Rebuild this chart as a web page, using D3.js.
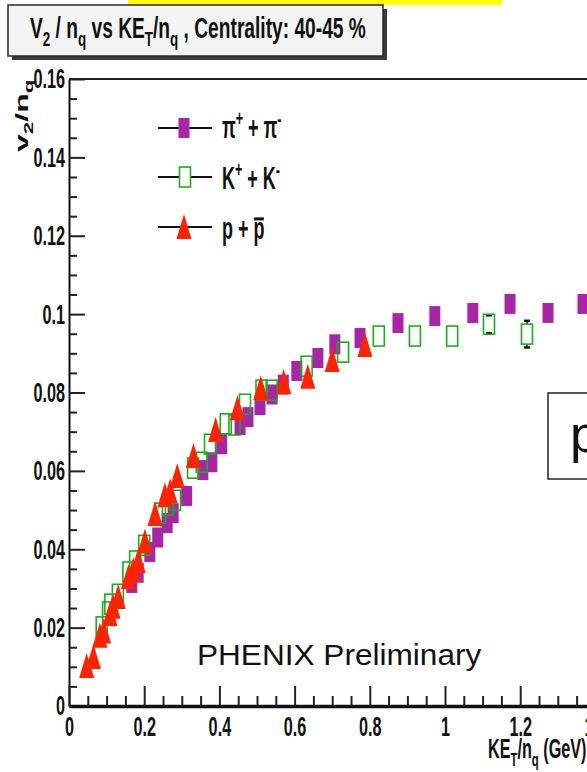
<!DOCTYPE html>
<html><head><meta charset="utf-8">
<script src="https://cdn.jsdelivr.net/npm/d3@7"></script>
<style>body{margin:0;background:#fff;} svg{display:block;}</style>
</head><body>
<svg id="c" width="587" height="772"></svg>
<script>
// ---------------- data ----------------
const pionKE = [0.167, 0.184, 0.215, 0.236, 0.261, 0.277, 0.313, 0.356, 0.380, 0.406, 0.455, 0.476, 0.508, 0.540, 0.570, 0.606, 0.662, 0.707, 0.774, 0.875, 0.973, 1.074, 1.173, 1.274, 1.367];
const pionV2 = [0.0314, 0.0340, 0.0393, 0.0430, 0.0467, 0.0492, 0.0536, 0.0602, 0.0622, 0.0668, 0.0717, 0.0737, 0.0768, 0.0795, 0.0820, 0.0855, 0.0888, 0.0923, 0.0939, 0.0977, 0.0995, 0.1003, 0.1026, 0.1003, 0.1026];

const kaonKE = [0.087, 0.104, 0.110, 0.130, 0.158, 0.176, 0.200, 0.242, 0.263, 0.282, 0.330, 0.353, 0.375, 0.417, 0.440, 0.468, 0.512, 0.539, 0.632, 0.729, 0.824, 0.920, 1.019, 1.117, 1.218];
const kaonV2 = [0.0202, 0.0240, 0.0260, 0.0285, 0.0342, 0.0370, 0.0410, 0.0492, 0.0513, 0.0525, 0.0607, 0.0622, 0.0668, 0.0720, 0.0717, 0.0770, 0.0806, 0.0806, 0.0867, 0.0903, 0.0944, 0.0944, 0.0944, 0.0974, 0.0949];
const kaonErr = [0, 0, 0, 0, 0, 0, 0, 0, 0, 0, 0, 0, 0, 0, 0, 0, 0, 0, 0, 0, 0, 0, 0, 0.0023, 0.0034];

const protonKE = [0.047, 0.065, 0.082, 0.092, 0.109, 0.117, 0.131, 0.158, 0.171, 0.184, 0.202, 0.229, 0.255, 0.269, 0.288, 0.331, 0.390, 0.448, 0.510, 0.571, 0.635, 0.700, 0.787];
const protonV2 = [0.0102, 0.0125, 0.0179, 0.0190, 0.0235, 0.0253, 0.0278, 0.0329, 0.0347, 0.0370, 0.0420, 0.0490, 0.0538, 0.0548, 0.0587, 0.0638, 0.0704, 0.0760, 0.0811, 0.0827, 0.0840, 0.0883, 0.0921];

const yTicks = [0, 0.02, 0.04, 0.06, 0.08, 0.10, 0.12, 0.14, 0.16];
const yTickLabels = ["0", "0.02", "0.04", "0.06", "0.08", "0.1", "0.12", "0.14", "0.16"];
const xTicks = [0, 0.2, 0.4, 0.6, 0.8, 1.0, 1.2, 1.4];
const xTickLabels = ["0", "0.2", "0.4", "0.6", "0.8", "1", "1.2", "1.4"];

const annotationText = "PHENIX Preliminary";

// ---------------- setup ----------------
const FONT = "'Liberation Sans', Arial, Helvetica, sans-serif";
const SQ = 0.58; // horizontal squeeze of the ROOT canvas text
const PURPLE = "#a626a6", GREEN = "#1eaa1e", RED = "#ff2400";

const svg = d3.select("#c");
const x = d3.scaleLinear().domain([0, 1.4]).range([69, 595.4]);
const y = d3.scaleLinear().domain([0, 0.16]).range([706, 79]);

// yellow strip at top
svg.append("rect").attr("x", 128).attr("y", 0).attr("width", 374).attr("height", 5).attr("fill", "#ffff00");

// title box with shadow
svg.append("rect").attr("x", 12).attr("y", 9).attr("width", 375).attr("height", 51).attr("fill", "#3a3a3a");
svg.append("rect").attr("x", 8).attr("y", 5).attr("width", 375).attr("height", 51)
  .attr("fill", "#f4f4f4").attr("stroke", "#2a2a2a").attr("stroke-width", 1.5);

function fitted(parent, px, py, targetW, build, anchor) {
  const g = parent.append("g").attr("transform", `translate(${px},${py})`);
  const t = g.append("text").attr("text-anchor", anchor || "start");
  build(t);
  const w = t.node().getBBox().width;
  g.attr("transform", `translate(${px},${py}) scale(${targetW / w},1)`);
  return t;
}
function sub(t, s, size) {
  t.append("tspan").attr("font-size", size * 0.7).attr("dy", size * 0.28).text(s);
  return t.append("tspan").attr("dy", -size * 0.28);
}
function sup(t, s, size) {
  t.append("tspan").attr("font-size", size * 0.7).attr("dy", -size * 0.38).text(s);
  return t.append("tspan").attr("dy", size * 0.38);
}

// title
fitted(svg, 30, 38, 336, t => {
  const fs = 30;
  t.attr("font-family", FONT).attr("font-weight", "bold").attr("font-size", fs).attr("fill", "#111");
  t.append("tspan").text("V");
  sub(t, "2", fs).text(" / n");
  sub(t, "q", fs).text("  vs KE");
  sub(t, "T", fs).text("/n");
  sub(t, "q", fs).text(" , Centrality: 40-45 %");
});

// ---------------- axes ----------------
const minorY = d3.range(0, 32).map(i => i * 0.005).filter(v => Math.round(v * 1000) % 20 !== 0);
const minorX = d3.range(0, 29).map(i => i * 0.05).filter(v => Math.round(v * 100) % 20 !== 0);

// frame top
svg.append("line").attr("x1", x(0)).attr("x2", 600).attr("y1", y(0.16)).attr("y2", y(0.16))
  .attr("stroke", "#222").attr("stroke-width", 2);

const yAxis = svg.append("g").attr("transform", `translate(${x(0)},0)`)
  .call(d3.axisLeft(y).tickValues(yTicks).tickFormat((d, i) => yTickLabels[i]).tickSize(-16).tickSizeOuter(0).tickPadding(4));
yAxis.select(".domain").attr("stroke", "#111").attr("stroke-width", 2);
yAxis.selectAll(".tick line").attr("stroke", "#222").attr("stroke-width", 2);
yAxis.selectAll(".tick text").attr("font-family", FONT).attr("font-weight", "bold").attr("font-size", 28)
  .attr("fill", "#111").attr("x", -4 / SQ).attr("transform", `scale(${SQ},1)`);
svg.append("g").attr("transform", `translate(${x(0)},0)`)
  .call(d3.axisLeft(y).tickValues(minorY).tickFormat("").tickSize(-8).tickSizeOuter(0))
  .call(g => { g.select(".domain").remove(); g.selectAll("line").attr("stroke", "#222").attr("stroke-width", 2); });

const xAxis = svg.append("g").attr("transform", `translate(0,${y(0)})`)
  .call(d3.axisBottom(x).tickValues(xTicks).tickFormat((d, i) => xTickLabels[i]).tickSize(-20).tickSizeOuter(0).tickPadding(10));
xAxis.select(".domain").attr("stroke", "#111").attr("stroke-width", 3.5);
xAxis.selectAll(".tick line").attr("stroke", "#222").attr("stroke-width", 2);
xAxis.selectAll(".tick text").attr("font-family", FONT).attr("font-weight", "bold").attr("font-size", 28)
  .attr("fill", "#111").attr("transform", `scale(${SQ},1)`);
svg.append("g").attr("transform", `translate(0,${y(0)})`)
  .call(d3.axisBottom(x).tickValues(minorX).tickFormat("").tickSize(-10).tickSizeOuter(0))
  .call(g => { g.select(".domain").remove(); g.selectAll("line").attr("stroke", "#222").attr("stroke-width", 2); });

// axis titles
{
  const g = svg.append("g").attr("transform", `translate(28,152) scale(${SQ},1) rotate(-90)`);
  const fs = 32;
  const t = g.append("text").attr("font-family", FONT).attr("font-weight", "bold").attr("font-size", fs).attr("fill", "#111");
  t.append("tspan").text("v");
  sub(t, "2", fs).text("/n");
  sub(t, "q", fs);
}
{
  const g = svg.append("g").attr("transform", `translate(488,758) scale(0.6,1)`);
  const fs = 27;
  const t = g.append("text").attr("font-family", FONT).attr("font-weight", "bold").attr("font-size", fs).attr("fill", "#111");
  t.append("tspan").text("KE");
  sub(t, "T", fs).text("/n");
  sub(t, "q", fs).text(" (GeV)");
}

// ---------------- markers ----------------
const plot = svg.append("g");
const MW = 11, MH = 20;

plot.selectAll("rect.pion").data(pionKE.map((k, i) => [k, pionV2[i]])).join("rect")
  .attr("class", "pion").attr("x", d => x(d[0]) - MW / 2).attr("y", d => y(d[1]) - MH / 2)
  .attr("width", MW).attr("height", MH).attr("fill", PURPLE);

const kaons = kaonKE.map((k, i) => [k, kaonV2[i], kaonErr[i]]);
const eb = plot.append("g").attr("stroke", "#111").attr("stroke-width", 1.5);
kaons.filter(d => d[2] > 0).forEach(d => {
  const cx = x(d[0]), top = y(d[1] + d[2]), bot = y(d[1] - d[2]), cy = y(d[1]);
  if (cy - top > MH / 2) {
    eb.append("line").attr("x1", cx).attr("x2", cx).attr("y1", top).attr("y2", cy - MH / 2);
    eb.append("line").attr("x1", cx).attr("x2", cx).attr("y1", cy + MH / 2).attr("y2", bot);
  }
  eb.append("line").attr("x1", cx - 3).attr("x2", cx + 3).attr("y1", top).attr("y2", top).attr("stroke-width", 2.5);
  eb.append("line").attr("x1", cx - 3).attr("x2", cx + 3).attr("y1", bot).attr("y2", bot).attr("stroke-width", 2.5);
});
plot.selectAll("rect.kaon").data(kaons).join("rect")
  .attr("class", "kaon").attr("x", d => x(d[0]) - MW / 2).attr("y", d => y(d[1]) - MH / 2)
  .attr("width", MW).attr("height", MH).attr("fill", "none").attr("stroke", GREEN).attr("stroke-width", 1.6);

const tri = (cx, cy) => `M${cx},${cy - 13}L${cx + 7.5},${cy + 12}L${cx - 7.5},${cy + 12}Z`;
plot.selectAll("path.proton").data(protonKE.map((k, i) => [k, protonV2[i]])).join("path")
  .attr("class", "proton").attr("d", d => tri(x(d[0]), y(d[1]))).attr("fill", RED);

// ---------------- legend ----------------
const legendRows = [128, 177, 227];
const leg = svg.append("g");
legendRows.forEach(ly => leg.append("line").attr("x1", 158).attr("x2", 212).attr("y1", ly).attr("y2", ly)
  .attr("stroke", "#111").attr("stroke-width", 2));
leg.append("rect").attr("x", 184 - MW / 2).attr("y", legendRows[0] - MH / 2).attr("width", MW).attr("height", MH).attr("fill", PURPLE);
leg.append("rect").attr("x", 185 - MW / 2).attr("y", legendRows[1] - MH / 2).attr("width", MW).attr("height", MH)
  .attr("fill", "#fff").attr("stroke", GREEN).attr("stroke-width", 1.6);
leg.append("path").attr("d", tri(184, legendRows[2])).attr("fill", RED);

function legText(ly, dyb, build) {
  const g = leg.append("g").attr("transform", `translate(222,${ly + dyb}) scale(${SQ},1)`);
  const t = g.append("text").attr("font-family", FONT).attr("font-weight", "bold").attr("font-size", 31).attr("fill", "#111");
  build(t, 31, g);
}
legText(legendRows[0], 10, (t, fs) => { t.append("tspan").text("π"); sup(t, "+", fs).text(" + π"); sup(t, "-", fs); });
legText(legendRows[1], 12, (t, fs) => { t.append("tspan").text("K"); sup(t, "+", fs).text(" + K"); sup(t, "-", fs); });
legText(legendRows[2], 12, (t, fs, g) => {
  t.text("p + p");
  const n = t.node();
  const last = n.getNumberOfChars() - 1;
  const s = n.getStartPositionOfChar(last).x, e = n.getEndPositionOfChar(last).x;
  const oy = -fs * 0.52 - 4;
  g.append("line").attr("x1", s + 1).attr("x2", e - 1).attr("y1", oy).attr("y2", oy)
    .attr("stroke", "#111").attr("stroke-width", 3);
});

// ---------------- annotations ----------------
fitted(svg, 197, 665, 285, t => {
  t.attr("font-family", FONT).attr("font-size", 29).attr("fill", "#111").text(annotationText);
});

svg.append("rect").attr("x", 548).attr("y", 393).attr("width", 60).attr("height", 86)
  .attr("fill", "#fff").attr("stroke", "#222").attr("stroke-width", 1.5);
svg.append("text").attr("x", 570).attr("y", 452).attr("font-family", FONT).attr("font-size", 52).attr("fill", "#111").text("p");
</script>
</body></html>
